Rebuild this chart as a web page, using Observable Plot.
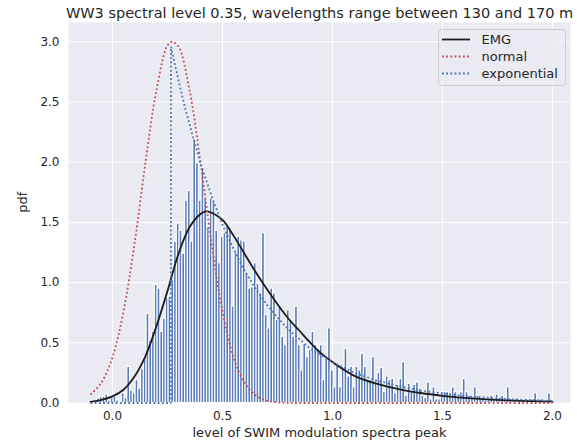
<!DOCTYPE html>
<html><head><meta charset="utf-8">
<script src="https://cdn.jsdelivr.net/npm/d3@7"></script>
<script src="https://cdn.jsdelivr.net/npm/@observablehq/plot@0.6"></script>
<style>
html,body{margin:0;padding:0;background:#fff;}
svg{font-family:"DejaVu Sans",sans-serif;}
</style></head><body><div id="chart"></div>
<script>
// ---- data ----
const title = "WW3 spectral level 0.35, wavelengths range between 130 and 170 m";
const xLabel = "level of SWIM modulation spectra peak";
const yLabel = "pdf";
const legendLabels = ["EMG", "normal", "exponential"];
const xTicks = [0.0, 0.5, 1.0, 1.5, 2.0];
const yTicks = [0.0, 0.5, 1.0, 1.5, 2.0, 2.5, 3.0];

// histogram: first bin edge and bin width, then bar heights (density)
const binStart = -0.07;
const binWidth = 0.0125;
const binValues = [
  0.04,0.05,0.05,0.07,0.02,0.04,0.05,0.02,0.01,0.08,
  0.04,0.30,0.10,0.08,0.19,0.12,0.28,0.38,0.74,0.52,
  0.59,0.98,0.95,0.59,0.70,0.87,0.88,1.02,1.34,1.49,
  1.43,1.24,1.68,1.76,1.34,2.19,1.99,1.68,1.95,1.70,
  1.46,1.70,1.67,1.43,1.16,1.38,1.41,1.47,1.45,0.80,
  1.25,1.38,1.35,1.34,1.08,0.95,0.96,1.16,0.99,0.91,
  1.41,0.73,0.62,0.95,0.91,0.69,0.80,0.55,0.48,0.77,
  0.69,0.55,0.80,0.48,0.27,0.49,0.38,0.44,0.59,0.48,
  0.45,0.48,0.19,0.37,0.62,0.27,0.13,0.31,0.13,0.30,
  0.45,0.22,0.30,0.13,0.30,0.27,0.41,0.30,0.19,0.19,
  0.38,0.19,0.25,0.29,0.09,0.22,0.19,0.20,0.08,0.15,
  0.20,0.34,0.06,0.16,0.09,0.15,0.17,0.12,0.06,0.04,
  0.17,0.03,0.13,0.03,0.03,0.09,0.09,0.09,0.07,0.13,
  0.09,0.05,0.09,0.20,0.09,0.06,0.05,0.13,0.06,0.03,
  0.04,0.02,0.04,0.06,0.03,0.07,0.04,0.06,0.02,0.13,
  0.03,0.02,0.03,0.02,0.03,0.01,0.03,0.02,0.03,0.08,
  0.02,0.03,0.01,0.02,0.08
];

// EMG fit (solid)
const emgX = [-0.1,-0.05,0.0,0.05,0.1,0.15,0.2,0.25,0.3,0.35,0.4,0.42,0.45,0.5,0.55,0.6,0.65,0.7,0.75,0.8,0.85,0.9,0.95,1.0,1.1,1.2,1.3,1.4,1.5,1.6,1.7,1.8,1.9,2.0];
const emgY = [0.01,0.025,0.055,0.11,0.22,0.39,0.64,0.93,1.24,1.46,1.57,1.59,1.58,1.52,1.39,1.24,1.09,0.95,0.82,0.70,0.60,0.50,0.41,0.34,0.225,0.16,0.115,0.083,0.06,0.043,0.03,0.021,0.015,0.011];

// normal fit (red dotted)
const normalX = [-0.1,-0.05,0.0,0.05,0.1,0.15,0.2,0.25,0.27,0.3,0.35,0.4,0.45,0.5,0.55,0.6,0.65,0.7,0.75,0.8,0.9,1.0,1.5,2.0];
const normalY = [0.07,0.17,0.38,0.76,1.32,2.0,2.6,2.97,3.0,2.96,2.6,2.0,1.33,0.76,0.38,0.17,0.065,0.02,0.006,0.001,0,0,0,0];

// exponential fit (blue dotted)
const expX = [-0.1,0.265,0.266,0.28,0.30,0.33,0.36,0.40,0.45,0.50,0.55,0.60,0.65,0.70,0.75,0.80,0.90,1.0,1.1,1.2,1.3,1.4,1.6,1.8,2.0];
const expY = [0,0,2.96,2.84,2.68,2.45,2.25,1.99,1.72,1.48,1.28,1.10,0.95,0.82,0.71,0.61,0.45,0.34,0.25,0.187,0.14,0.103,0.057,0.032,0.018];

// ---- build tables for the library ----
const bins = binValues.map((v, i) => ({x1: binStart + i * binWidth, x2: binStart + (i + 1) * binWidth, y: v}));
const pts = (xs, ys) => xs.map((x, i) => ({x, y: ys[i]}));
const emg = pts(emgX, emgY), normal = pts(normalX, normalY), expo = pts(expX, expY);

const ink = "#262626";
const dots = "1.8,2.4";
const chart = Plot.plot({
  width: 577, height: 447,
  marginTop: 22, marginBottom: 44.5, marginLeft: 68, marginRight: 7,
  style: {background: "white", fontFamily: "DejaVu Sans", fontSize: "12px", color: ink},
  x: {domain: [-0.2, 2.082]},
  y: {domain: [0, 3.16]},
  marks: [
    Plot.frame({fill: "#EAEAF2", stroke: null}),
    Plot.gridX(xTicks, {stroke: "white", strokeOpacity: 1, strokeWidth: 1}),
    Plot.gridY(yTicks, {stroke: "white", strokeOpacity: 1, strokeWidth: 1}),
    Plot.rectY(bins, {x1: "x1", x2: "x2", y: "y", fill: "#5a7db8", stroke: "white", strokeWidth: 1.1}),
    Plot.line(emg, {x: "x", y: "y", stroke: "#1c1c1c", strokeWidth: 1.8, curve: "catmull-rom"}),
    Plot.line(normal, {x: "x", y: "y", stroke: "#C44E52", strokeWidth: 1.8, strokeDasharray: dots, strokeLinecap: "butt", strokeLinejoin: "miter", curve: "catmull-rom"}),
    Plot.line(expo, {x: "x", y: "y", stroke: "#4C72B0", strokeWidth: 1.8, strokeDasharray: dots, strokeLinecap: "butt", strokeLinejoin: "miter", curve: "linear"}),
    Plot.axisX(xTicks, {tickSize: 0, tickPadding: 8, tickFormat: d3.format(".1f"), label: null, fontSize: 12}),
    Plot.axisY(yTicks, {tickSize: 0, tickPadding: 9, tickFormat: d3.format(".1f"), label: null, fontSize: 12}),
    Plot.text([title], {frameAnchor: "top", dy: -15, fontSize: 14.5, fill: ink}),
    Plot.text([xLabel], {frameAnchor: "bottom", dy: 34, fontSize: 13, fill: ink}),
    Plot.text([yLabel], {frameAnchor: "left", dx: -46, rotate: -90, fontSize: 13, fill: ink})
  ]
});
document.getElementById("chart").appendChild(chart);

// legend (styled like matplotlib's)
const svg = d3.select(chart);
const lg = svg.append("g").attr("font-family", "DejaVu Sans").attr("font-size", 13).attr("text-anchor", "start");
lg.append("rect").attr("x", 438.5).attr("y", 29.5).attr("width", 127).attr("height", 56).attr("rx", 3)
  .attr("fill", "#EAEAF2").attr("fill-opacity", 0.8).attr("stroke", "#CCCCCC");
const legendStyles = [
  {stroke: "#1c1c1c", dash: null, w: 1.8},
  {stroke: "#C44E52", dash: dots, w: 1.8},
  {stroke: "#4C72B0", dash: dots, w: 1.8}
];
legendLabels.forEach((lab, i) => {
  const y = 39.5 + i * 17;
  const s = legendStyles[i];
  lg.append("line").attr("x1", 442).attr("x2", 470).attr("y1", y).attr("y2", y)
    .attr("stroke", s.stroke).attr("stroke-width", s.w).attr("stroke-dasharray", s.dash);
  lg.append("text").attr("x", 481.5).attr("y", y).attr("dy", "0.35em").attr("text-anchor", "start").attr("fill", ink).text(lab);
});
</script></body></html>
